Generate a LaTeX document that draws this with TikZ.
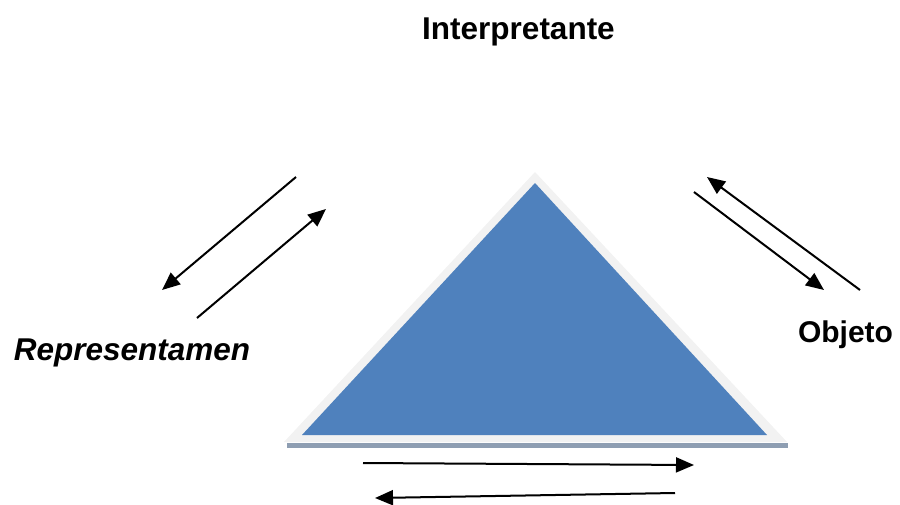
\documentclass[tikz,border=0pt]{standalone}
\usepackage{fontspec}
\setmainfont{Liberation Sans}
\usetikzlibrary{arrows.meta}
\definecolor{triblue}{HTML}{4F81BD}
\definecolor{triedge}{HTML}{F2F2F2}
\definecolor{trishadow}{HTML}{8E9EB2}
\tikzset{
  lbl/.style={font=\fontsize{31.5}{36}\selectfont\bfseries, inner sep=0pt, anchor=base},
  arr/.style={line width=2pt, -{Triangle[length=18pt,width=15pt]}}
}
\begin{document}
\begin{tikzpicture}[x=1pt,y=-1pt]
\useasboundingbox (0,0) rectangle (900,504);
% triangle
\fill[trishadow] (287,443) -- (788,443) -- (788,448) -- (287,448) -- cycle;
\fill[triedge] (535,172) -- (787,442) -- (284,442) -- cycle;
\fill[triblue] (535,183) -- (767,435) -- (302,435) -- cycle;
% labels
\node[lbl] (interp) at (518.5,39) {Interpretante};
\node[lbl, font=\fontsize{31.5}{36}\selectfont\bfseries\itshape] (repr) at (132,360) {Representamen};
\node[lbl, font=\fontsize{30}{36}\selectfont\bfseries] (obj) at (845.5,342) {Objeto};
% arrow endpoints
\coordinate (l1s) at (296,177);
\coordinate (l1e) at (162,290);
\coordinate (l2s) at (197,318);
\coordinate (l2e) at (326,209);
\coordinate (r1s) at (860,290);
\coordinate (r1e) at (707,177);
\coordinate (r2s) at (694,192);
\coordinate (r2e) at (824,290);
\coordinate (b1s) at (363,463);
\coordinate (b1e) at (694,465);
\coordinate (b2s) at (675,493);
\coordinate (b2e) at (375,498);
\draw[arr] (l1s) -- (l1e);
\draw[arr] (l2s) -- (l2e);
\draw[arr] (r1s) -- (r1e);
\draw[arr] (r2s) -- (r2e);
\draw[arr] (b1s) -- (b1e);
\draw[arr] (b2s) -- (b2e);
\end{tikzpicture}
\end{document}
